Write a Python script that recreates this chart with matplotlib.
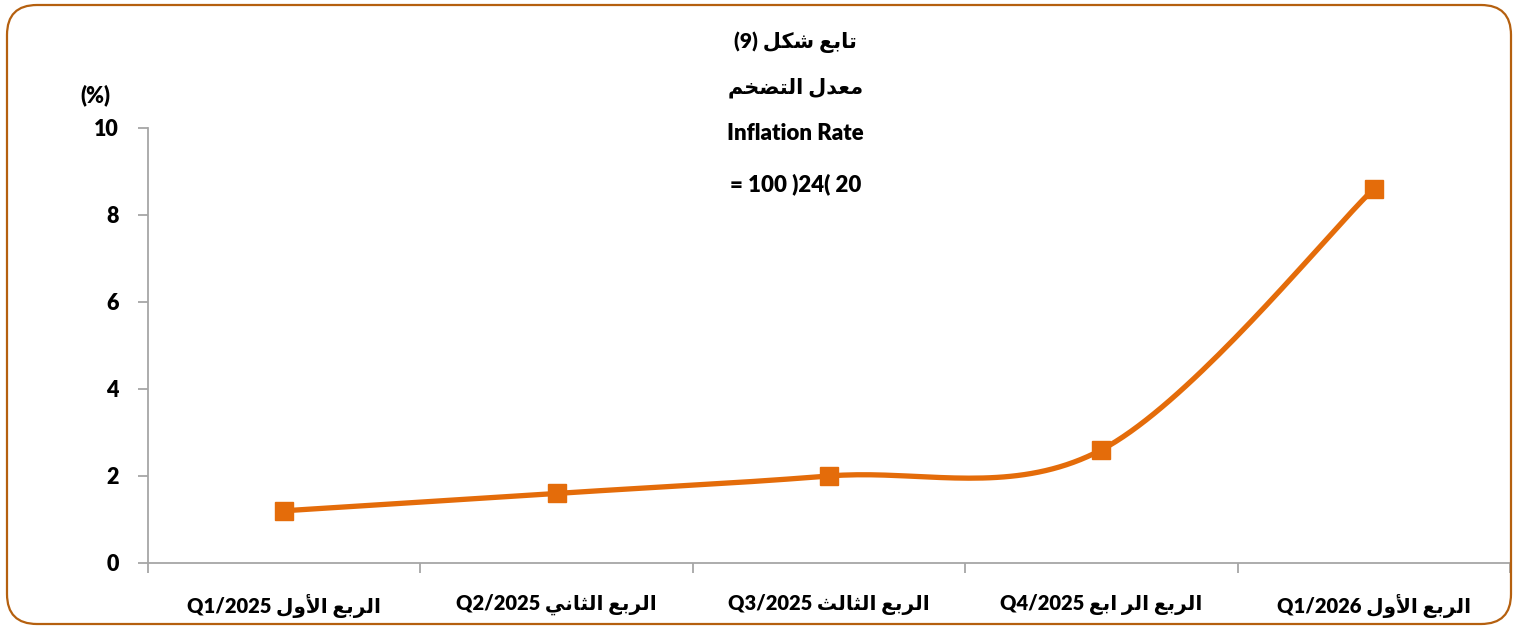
import numpy as np
import matplotlib
matplotlib.use('Agg')
import matplotlib.pyplot as plt
from matplotlib.patches import FancyBboxPatch

# data
quarters_ar = ['الربع الأول', 'الربع الثاني', 'الربع الثالث', 'الربع الر ابع', 'الربع الأول']
quarters_en = ['Q1/2025', 'Q2/2025', 'Q3/2025', 'Q4/2025', 'Q1/2026']
inflation = [1.2, 1.6, 2.0, 2.6, 8.6]
y_ticks = [0, 2, 4, 6, 8, 10]

title_ar1 = 'تابع شكل'
title_num = '(9)'
title_ar2 = 'معدل التضخم'
title_en = 'Inflation Rate'
base_line = '= 100 )24( 20'
unit_label = '(%)'

LINE_COLOR = '#E46C0A'
AXIS_COLOR = '#A6A6A6'
FRAME_COLOR = '#B5600F'

# presentation forms: isolated, final, initial, medial
FORMS = {
    'ا': ('\uFE8D', '\uFE8E', None, None),
    'أ': ('\uFE83', '\uFE84', None, None),
    'ب': ('\uFE8F', '\uFE90', '\uFE91', '\uFE92'),
    'ت': ('\uFE95', '\uFE96', '\uFE97', '\uFE98'),
    'ث': ('\uFE99', '\uFE9A', '\uFE9B', '\uFE9C'),
    'خ': ('\uFEA5', '\uFEA6', '\uFEA7', '\uFEA8'),
    'د': ('\uFEA9', '\uFEAA', None, None),
    'ر': ('\uFEAD', '\uFEAE', None, None),
    'ش': ('\uFEB5', '\uFEB6', '\uFEB7', '\uFEB8'),
    'ض': ('\uFEBD', '\uFEBE', '\uFEBF', '\uFEC0'),
    'ع': ('\uFEC9', '\uFECA', '\uFECB', '\uFECC'),
    'ك': ('\uFED9', '\uFEDA', '\uFEDB', '\uFEDC'),
    'ل': ('\uFEDD', '\uFEDE', '\uFEDF', '\uFEE0'),
    'م': ('\uFEE1', '\uFEE2', '\uFEE3', '\uFEE4'),
    'ن': ('\uFEE5', '\uFEE6', '\uFEE7', '\uFEE8'),
    'و': ('\uFEED', '\uFEEE', None, None),
    'ي': ('\uFEF1', '\uFEF2', '\uFEF3', '\uFEF4'),
    'لا': ('\uFEFB', '\uFEFC', None, None),
    'لأ': ('\uFEF7', '\uFEF8', None, None),
}


def ar(text):
    # join letters and put them in visual (right-to-left) order
    units = []
    i = 0
    while i < len(text):
        if text[i] == 'ل' and i + 1 < len(text) and text[i + 1] in 'اأ':
            units.append(text[i:i + 2])
            i += 2
        else:
            units.append(text[i])
            i += 1
    out = []
    for k, u in enumerate(units):
        if u not in FORMS:
            out.append(u)
            continue
        prev = units[k - 1] if k > 0 else None
        nxt = units[k + 1] if k + 1 < len(units) else None
        join_prev = prev in FORMS and FORMS[prev][2] is not None
        join_next = nxt in FORMS and FORMS[u][2] is not None
        iso, fin, ini, med = FORMS[u]
        if join_prev and join_next:
            out.append(med)
        elif join_prev:
            out.append(fin)
        elif join_next:
            out.append(ini)
        else:
            out.append(iso)
    return ''.join(out[::-1])


def smooth(xs, ys, n=40):
    # bezier curve through the points like a smoothed office line
    pts = np.column_stack([xs, ys]).astype(float)
    curve = []
    t = np.linspace(0, 1, n)[:, None]
    for i in range(len(pts) - 1):
        p0 = pts[max(i - 1, 0)]
        p1 = pts[i]
        p2 = pts[i + 1]
        p3 = pts[min(i + 2, len(pts) - 1)]
        c1 = p1 + (p2 - p0) / 6
        c2 = p2 - (p3 - p1) / 6
        seg = ((1 - t) ** 3) * p1 + 3 * ((1 - t) ** 2) * t * c1 + 3 * (1 - t) * t ** 2 * c2 + t ** 3 * p2
        curve.append(seg)
    curve = np.vstack(curve)
    return curve[:, 0], curve[:, 1]


FAMILY = ['Lato', 'DejaVu Sans']
plt.rcParams['font.family'] = FAMILY
plt.rcParams['font.weight'] = 'heavy'
W = 'heavy'

fig = plt.figure(figsize=(15.18, 6.31), dpi=100)
ax = fig.add_axes([0.0975, 0.1078, 0.8972, 0.6894])

x = np.arange(len(inflation))
sx, sy = smooth(x, inflation)
ax.plot(sx, sy, color=LINE_COLOR, lw=3.8, solid_capstyle='round', zorder=3)
ax.plot(x, inflation, ls='none', marker='s', ms=12.5, color=LINE_COLOR, zorder=4)

ax.set_xlim(-0.5, len(inflation) - 0.5)
ax.set_ylim(0, 10)

for side in ['top', 'right']:
    ax.spines[side].set_visible(False)
for side in ['left', 'bottom']:
    ax.spines[side].set_color(AXIS_COLOR)
    ax.spines[side].set_linewidth(1.3)

ax.set_yticks(y_ticks)
ax.set_yticklabels([str(v) for v in y_ticks], fontsize=15.5, fontweight=W)
ax.tick_params(axis='y', length=7, width=1.3, color=AXIS_COLOR, pad=14)

ax.set_xticks(np.arange(len(inflation) + 1) - 0.5)
ax.set_xticklabels([])
ax.tick_params(axis='x', which='major', length=7, width=1.3, color=AXIS_COLOR)
ax.set_xticks(x, minor=True)
ax.set_xticklabels([en + ' ' + ar(a) for a, en in zip(quarters_ar, quarters_en)],
                   minor=True, fontsize=14.5, fontweight=W)
ax.tick_params(axis='x', which='minor', length=0, pad=22)

cx = 0.524
fig.text(cx, 1 - 42 / 631, title_num + ' ' + ar(title_ar1), ha='center', va='center',
         fontsize=15, fontweight=W)
fig.text(cx, 1 - 88 / 631, ar(title_ar2), ha='center', va='center', fontsize=15, fontweight=W)
fig.text(cx, 1 - 133 / 631, title_en, ha='center', va='center', fontsize=16, fontweight=W)
fig.text(cx, 1 - 184 / 631, base_line, ha='center', va='center', fontsize=16, fontweight=W)
fig.text(95 / 1518, 1 - 95 / 631, unit_label, ha='center', va='center', fontsize=15.5, fontweight=W)

# rounded outer frame
frame = FancyBboxPatch((0.07, 0.07), 15.18 - 0.14, 6.31 - 0.12,
                       boxstyle='round,pad=0,rounding_size=0.3',
                       transform=fig.dpi_scale_trans, fill=False,
                       edgecolor=FRAME_COLOR, lw=1.6, clip_on=False)
fig.patches.append(frame)

fig.savefig('out.png', dpi=100)
